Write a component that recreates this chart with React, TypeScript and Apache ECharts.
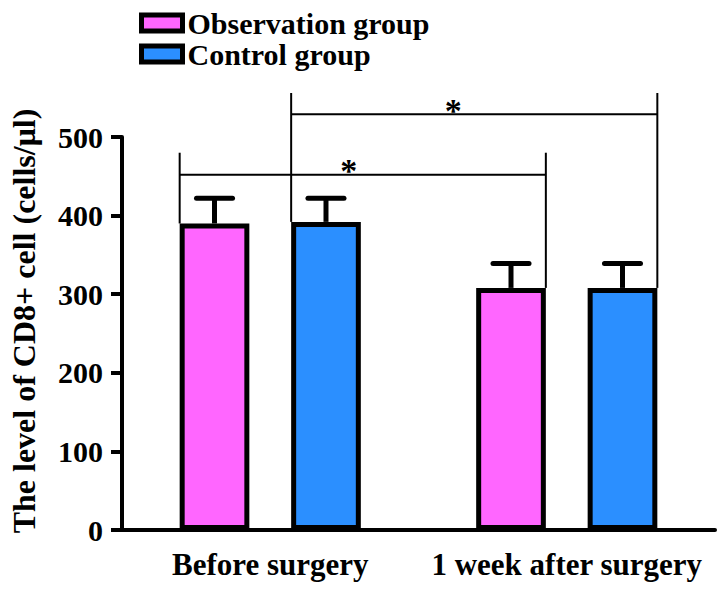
import React, { useEffect, useRef } from "react";
import * as echarts from "echarts";

const categories = ["Before surgery", "1 week after surgery"];
const groups = ["Observation group", "Control group"];
const observationMean = [390, 308];
const observationSD = [32, 31];
const controlMean = [392, 308];
const controlSD = [30, 31];
const yTicks = [0, 100, 200, 300, 400, 500];
const yTitle = "The level of CD8+ cell (cells/\u03bcl)";

// significance brackets: [fromCategory, fromGroup] -> [toCategory, toGroup], line level, tick top level
const brackets = [
  { from: [0, 0], to: [1, 0], level: 452, top: 480, mark: "*", markPos: 0.462 },
  { from: [0, 1], to: [1, 1], level: 529, top: 556, mark: "*", markPos: 0.443 },
];

const FONT = "'Liberation Serif', 'Times New Roman', serif";
const PINK = "#FF66FF";
const BLUE = "#2B8FFF";
const BAR_FRAC = 0.235;
const GAP_FRAC = 0.6;

const means = [observationMean, controlMean];
const sds = [observationSD, controlSD];

function barGeom(api: any, cat: number, g: number) {
  const catW = api.size([1, 0])[0];
  const barW = catW * BAR_FRAC;
  const gap = barW * GAP_FRAC;
  const off = (g === 0 ? -1 : 1) * (barW + gap) / 2;
  const c = api.coord([cat, 0]);
  return { cx: c[0] + off, barW };
}

export default function App() {
  const ref = useRef<HTMLDivElement>(null);
  useEffect(() => {
    if (!ref.current) return;
    const chart = echarts.init(ref.current, null, { renderer: "svg" });

    const errData: number[][] = [];
    for (let g = 0; g < 2; g++)
      for (let c = 0; c < categories.length; c++)
        errData.push([c, means[g][c], sds[g][c], g]);

    const option: any = {
      animation: false,
      backgroundColor: "#fff",
      grid: { left: 122, right: 9, top: 137, bottom: 61, containLabel: false },
      legend: {
        orient: "vertical",
        left: 139,
        top: 8,
        padding: 0,
        itemGap: 1,
        itemWidth: 41,
        itemHeight: 16,
        itemTextGap: 5,
        icon: "rect",
        data: groups,
        itemStyle: { borderColor: "#000", borderWidth: 5 },
        textStyle: { fontFamily: FONT, fontWeight: "bold", fontSize: 30, color: "#000" },
      },
      xAxis: {
        type: "category",
        data: categories,
        axisLine: { lineStyle: { color: "#000", width: 4 } },
        axisTick: { alignWithLabel: true, length: 12, lineStyle: { color: "#000", width: 3 } },
        axisLabel: { interval: 0, fontFamily: FONT, fontWeight: "bold", fontSize: 31, color: "#000", margin: 19 },
        splitLine: { show: false },
      },
      yAxis: {
        type: "value",
        min: yTicks[0],
        max: yTicks[yTicks.length - 1],
        interval: 100,
        axisLine: { show: true, lineStyle: { color: "#000", width: 4 } },
        axisTick: { show: true, length: 11, lineStyle: { color: "#000", width: 4 } },
        axisLabel: { fontFamily: FONT, fontWeight: "bold", fontSize: 30, color: "#000", margin: 19 },
        splitLine: { show: false },
      },
      graphic: [
        {
          type: "text",
          x: 24,
          y: 321,
          rotation: Math.PI / 2,
          style: {
            text: yTitle,
            font: `bold 32px ${FONT}`,
            fill: "#000",
            textAlign: "center",
            textVerticalAlign: "middle",
          },
        },
      ],
      series: [
        {
          name: groups[0],
          type: "bar",
          data: observationMean,
          barWidth: `${BAR_FRAC * 100}%`,
          barGap: `${GAP_FRAC * 100}%`,
          itemStyle: { color: PINK, borderColor: "#000", borderWidth: 5 },
        },
        {
          name: groups[1],
          type: "bar",
          data: controlMean,
          barWidth: `${BAR_FRAC * 100}%`,
          barGap: `${GAP_FRAC * 100}%`,
          itemStyle: { color: BLUE, borderColor: "#000", borderWidth: 5 },
        },
        {
          type: "custom",
          data: errData,
          encode: { x: 0, y: 1 },
          z: 3,
          renderItem: (params: any, api: any) => {
            const cat = api.value(0);
            const mean = api.value(1);
            const sd = api.value(2);
            const g = api.value(3);
            const { cx } = barGeom(api, cat, g);
            const yb = api.coord([cat, mean])[1];
            const yt = api.coord([cat, mean + sd])[1];
            const style = { stroke: "#000", lineWidth: 5, lineCap: "round" };
            return {
              type: "group",
              children: [
                { type: "line", shape: { x1: cx, y1: yb, x2: cx, y2: yt }, style: { stroke: "#000", lineWidth: 5 } },
                { type: "line", shape: { x1: cx - 18, y1: yt, x2: cx + 18, y2: yt }, style },
              ],
            };
          },
        },
        {
          type: "custom",
          data: brackets.map((b, i) => [b.from[0], b.level, i]),
          encode: { x: 0, y: 1 },
          z: 4,
          renderItem: (params: any, api: any) => {
            const b = brackets[api.value(2)];
            const a = barGeom(api, b.from[0], b.from[1]);
            const c = barGeom(api, b.to[0], b.to[1]);
            const x1 = a.cx - a.barW / 2;
            const x2 = c.cx + c.barW / 2;
            const yl = api.coord([b.from[0], b.level])[1];
            const ytop = api.coord([b.from[0], b.top])[1];
            const y1b = api.coord([b.from[0], means[b.from[1]][b.from[0]]])[1];
            const y2b = api.coord([b.to[0], means[b.to[1]][b.to[0]]])[1];
            const st = { stroke: "#000", lineWidth: 2 };
            return {
              type: "group",
              children: [
                { type: "line", shape: { x1, y1: yl, x2, y2: yl }, style: st },
                { type: "line", shape: { x1, y1: ytop, x2: x1, y2: y1b }, style: st },
                { type: "line", shape: { x1: x2, y1: ytop, x2, y2: y2b }, style: st },
                {
                  type: "text",
                  x: x1 + (x2 - x1) * b.markPos,
                  y: yl - 4,
                  style: {
                    text: b.mark,
                    font: `bold 34px ${FONT}`,
                    fill: "#000",
                    textAlign: "center",
                    textVerticalAlign: "middle",
                  },
                },
              ],
            };
          },
        },
      ],
    };
    chart.setOption(option);
    return () => chart.dispose();
  }, []);
  return <div ref={ref} style={{ width: 724, height: 591, position: "absolute", left: 0, top: 0 }} />;
}
